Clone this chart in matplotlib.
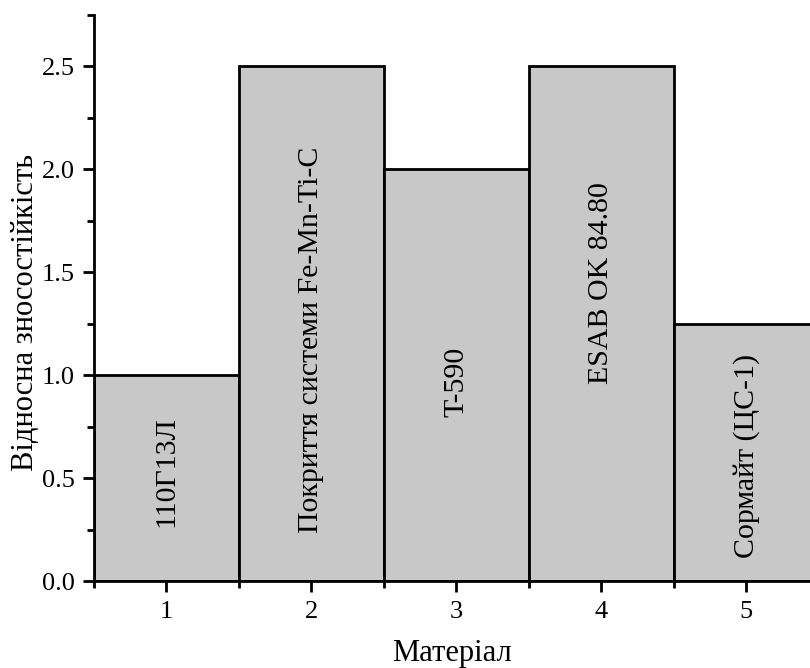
import matplotlib
matplotlib.use("Agg")
import matplotlib.pyplot as plt
from matplotlib.ticker import MultipleLocator

plt.rcParams['font.family'] = ['Liberation Serif', 'DejaVu Serif']

positions = [1, 2, 3, 4, 5]
values = [1.0, 2.5, 2.0, 2.5, 1.25]
bar_labels = ["110Г13Л", "Покриття системи Fe-Mn-Ti-C", "T-590", "ESAB OK 84.80", "Сормайт (ЦС-1)"]
label_y = [0.53, 1.17, 0.97, 1.45, 0.61]
xtick_labels = ["1", "2", "3", "4", "5"]

fig = plt.figure(figsize=(8.1, 6.68), dpi=100)
ax = fig.add_axes([0.116, 0.130, 0.884, 0.8475])

ax.bar(positions, values, width=1.0, color="#c8c8c8", edgecolor="black", linewidth=2, zorder=2)
for x, y, t in zip(positions, label_y, bar_labels):
    ax.text(x, y, t, rotation=90, ha="center", va="center", fontsize=21.5, zorder=3)

ax.set_xlim(0.5, 5.44)
ax.set_ylim(0, 2.75)
ax.set_xticks(positions)
ax.set_xticklabels(xtick_labels)
ax.xaxis.set_minor_locator(MultipleLocator(0.5))
ax.yaxis.set_major_locator(MultipleLocator(0.5))
ax.yaxis.set_minor_locator(MultipleLocator(0.25))
ax.yaxis.set_major_formatter(matplotlib.ticker.FormatStrFormatter('%.1f'))

for s in ["top", "right"]:
    ax.spines[s].set_visible(False)
for s in ["left", "bottom"]:
    ax.spines[s].set_linewidth(2)
    ax.spines[s].set_zorder(4)

ax.tick_params(axis="both", which="major", direction="out", length=8, width=2, labelsize=19, pad=6)
ax.tick_params(axis="both", which="minor", direction="out", length=5, width=2)

ax.set_ylabel("Відносна зносостійкість", fontsize=22, va="center")
ax.yaxis.set_label_coords(-0.096, 0.475)
ax.set_xlabel("Матеріал", fontsize=22, labelpad=12)

fig.savefig("out.png", dpi=100)
